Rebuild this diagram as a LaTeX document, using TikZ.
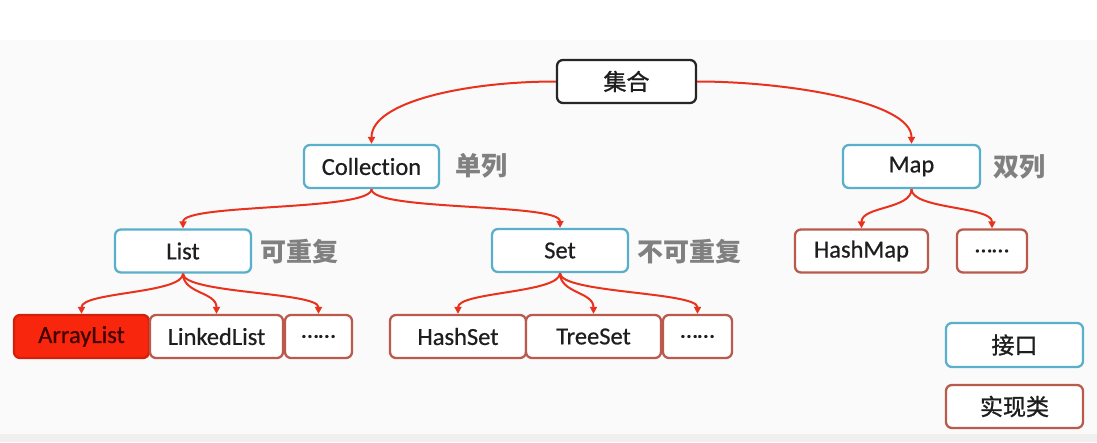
\documentclass[tikz,border=0pt]{standalone}
\usepackage{fontspec}
\setmainfont{Carlito}[FakeBold=0.6, Ligatures={NoCommon}]
\newfontfamily\cjk{Noto Sans CJK SC}
\usetikzlibrary{arrows.meta}
\definecolor{arrred}{HTML}{E8321E}
\definecolor{ifblue}{HTML}{5AAFCB}
\definecolor{imred}{HTML}{B95A4C}
\definecolor{lblgray}{HTML}{808080}
\definecolor{txt}{HTML}{1E1E1E}
\definecolor{bg}{HTML}{FAFAFA}
\definecolor{bgbot}{HTML}{EFEFEF}
\definecolor{hilite}{HTML}{F8260C}
\tikzset{
  box/.style={draw, rounded corners=6pt, line width=2.3pt, fill=white, minimum height=43pt, inner sep=0pt, text=txt, font=\fontsize{24.5}{28}\selectfont},
  ibox/.style={box, draw=ifblue},
  rbox/.style={box, draw=imred},
  tbox/.style={box, draw=black!85},
  cjkbox/.style={font=\cjk\fontsize{23}{27}\selectfont},
  note/.style={text=lblgray, font=\cjk\bfseries\fontsize{26}{30}\selectfont, inner sep=0pt},
  conn/.style={draw=arrred, line width=2pt, -{Triangle[length=7pt,width=7pt]}},
}
\begin{document}
\begin{tikzpicture}[x=1pt, y=-1pt]
\useasboundingbox (0,0) rectangle (1097,442);
\fill[white] (0,0) rectangle (1097,40);
\fill[bg] (0,40) rectangle (1097,434);
\fill[bgbot] (0,434) rectangle (1097,442);

% nodes
\node[tbox, cjkbox, minimum width=139pt] (top) at (626.5,81.5) {\addfontfeature{FakeBold=1.2}集合};
\node[ibox, minimum width=135pt] (coll) at (371.5,166.5) {Collection};
\node[ibox, minimum width=137pt] (map) at (911.5,166.5) {Map};
\node[ibox, minimum width=136pt] (list) at (183,251) {List};
\node[ibox, minimum width=136pt] (set) at (560,250.5) {Set};
\node[rbox, minimum width=133pt] (hashmap) at (861.5,251) {HashMap};
\node[rbox, minimum width=70pt] (mapdots) at (992,251) {……};
\node[box, draw=hilite!85!black, fill=hilite, text=black!75!red, minimum width=135pt] (arraylist) at (81.5,336.5) {ArrayList};
\node[rbox, minimum width=133pt] (linkedlist) at (216.5,336.5) {LinkedList};
\node[rbox, minimum width=67pt] (listdots) at (318.5,336.5) {……};
\node[rbox, minimum width=136pt] (hashset) at (458,336.5) {HashSet};
\node[rbox, minimum width=135pt] (treeset) at (593.5,336.5) {TreeSet};
\node[rbox, minimum width=69pt] (setdots) at (697.5,336.5) {……};
\node[ibox, cjkbox, minimum width=137pt, minimum height=44pt] (iface) at (1014.5,345) {\addfontfeature{FakeBold=1.2}接口};
\node[rbox, cjkbox, minimum width=137pt] (impl) at (1014.5,406.5) {\addfontfeature{FakeBold=1.2}实现类};

% side labels
\node[note] (l1) at (481,166) {单列};
\node[note] (l2) at (1019,167) {双列};
\node[note] (l3) at (299,252) {可重复};
\node[note] (l4) at (689.5,252) {不可重复};

% connectors
\draw[conn] (top.west) .. controls +(-90,0) and +(0,-42) .. (coll.north);
\draw[conn] (top.east) .. controls +(90,0) and +(0,-42) .. (map.north);
\draw[conn] (coll.south) .. controls +(0,22) and +(0,-25) .. (list.north);
\draw[conn] (coll.south) .. controls +(0,22) and +(0,-25) .. (set.north);
\draw[conn] (map.south) .. controls +(0,20) and +(0,-22) .. (hashmap.north);
\draw[conn] (map.south) .. controls +(0,20) and +(0,-22) .. (mapdots.north);
\draw[conn] (list.south) .. controls +(0,20) and +(0,-22) .. (arraylist.north);
\draw[conn] (list.south) .. controls +(0,20) and +(0,-22) .. (linkedlist.north);
\draw[conn] (list.south) .. controls +(0,20) and +(0,-22) .. (listdots.north);
\draw[conn] (set.south) .. controls +(0,20) and +(0,-22) .. (hashset.north);
\draw[conn] (set.south) .. controls +(0,20) and +(0,-22) .. (treeset.north);
\draw[conn] (set.south) .. controls +(0,20) and +(0,-22) .. (setdots.north);
\end{tikzpicture}
\end{document}
